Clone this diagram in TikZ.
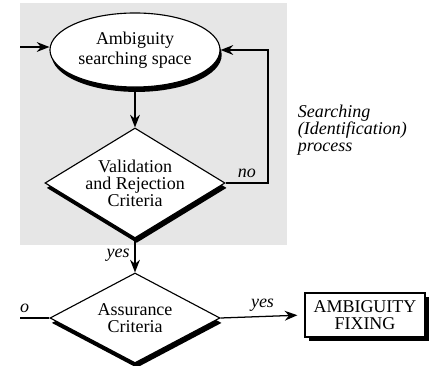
\documentclass[tikz,border=0pt]{standalone}
\usepackage{fontspec}
\setmainfont{Liberation Serif}
\usetikzlibrary{calc, positioning, shapes.geometric, arrows.meta, shadows}
\definecolor{screen}{HTML}{E6E6E6}

\begin{document}
\begin{tikzpicture}[
    x=0.025cm, y=-0.025cm,
    >={Stealth[length=9pt, width=7pt]},
    every node/.style={font=\fontsize{12.8}{14}\selectfont, align=center},
    tag/.style={font=\fontsize{12.8}{14}\selectfont\itshape},
    heavy/.style={drop shadow={shadow xshift=1.2pt, shadow yshift=-3.5pt, opacity=1, fill=black}},
    space/.style={ellipse, draw, fill=white, line width=0.8pt, inner sep=0pt,
      minimum width=4.25cm, minimum height=1.85cm, heavy},
    test/.style={diamond, draw, fill=white, line width=0.8pt, inner sep=0pt, heavy},
    fixbox/.style={rectangle, draw, fill=white, line width=0.8pt,
      minimum width=3cm, minimum height=1.1cm,
      drop shadow={shadow xshift=3pt, shadow yshift=-3pt, opacity=1, fill=black}},
    flow/.style={line width=0.9pt}
  ]
  \useasboundingbox (0,0) rectangle (436,366);
  \clip (20,0) rectangle (436,366);
  \fill[screen] (20,3) rectangle (287,245);

  \node[space] (space) at (135,50) {Ambiguity\\searching space};
  \node[test, aspect=1.64, minimum width=4.5cm, minimum height=2.75cm] (valid) at (135,183)
    {Validation\\[-2pt]and Rejection\\[-2pt]Criteria};
  \node[test, aspect=1.9, minimum width=4.25cm, minimum height=2.25cm] (assure) at (135,318)
    {Assurance\\[-2pt]Criteria};
  \node[fixbox] (fix) at (365,315) {AMBIGUITY\\[-2pt]FIXING};
  \node[tag, anchor=west, align=left] (search) at (293,130)
    {Searching\\[-2pt](Identification)\\[-2pt]process};

  \coordinate (entry) at (20,47);
  \coordinate (loop) at (268,0);
  \coordinate (exit) at (20,318);

  \draw[flow, ->] (entry) -- (space.west |- entry);
  \draw[flow, ->] (space) -- (valid);
  \draw[flow, ->] (valid.east) -- node[tag, above] {no} (valid.east -| loop)
    |- (space.east);
  \draw[flow, ->] (valid.south) -- node[tag, left] {yes} (assure.north);
  \draw[flow, ->, shorten >=5pt] (assure.east) -- node[tag, above] {yes} (fix.west);
  \draw[flow] (assure.west) -- (exit) node[tag, above] {no};
\end{tikzpicture}
\end{document}
